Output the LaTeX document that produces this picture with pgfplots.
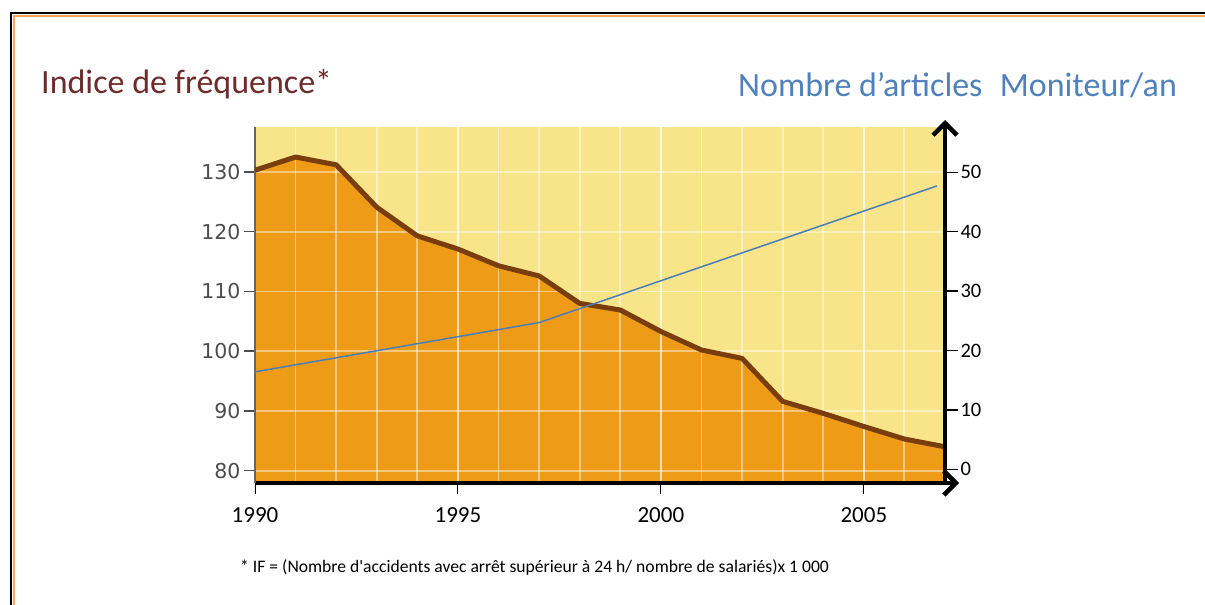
\documentclass[border=0pt]{standalone}
\usepackage{pgfplots}
\pgfplotsset{compat=1.18}
\usepackage{pgfplotstable}
\usetikzlibrary{arrows.meta}
\usepackage{fontspec}
\setmainfont{Carlito}[Ligatures=TeXOff]
\newfontfamily\dejavu{DejaVu Sans}
\definecolor{bgyellow}{HTML}{F8E58A}
\definecolor{areaorange}{HTML}{EE9C17}
\definecolor{linebrown}{HTML}{7A3E0C}
\definecolor{lineblue}{HTML}{4A7EBB}
\definecolor{titlered}{HTML}{6E2B2B}
\definecolor{titleblue}{HTML}{4F81BD}
\definecolor{frameorange}{HTML}{FAA75C}
\definecolor{ticklabgray}{HTML}{4D4D4D}

\pgfplotstableread{
year freq
1990 130.3
1991 132.5
1992 131.2
1993 124.1
1994 119.3
1995 117.1
1996 114.3
1997 112.6
1998 108.0
1999 106.9
2000 103.3
2001 100.2
2002 98.8
2003 91.6
2004 89.6
2005 87.4
2006 85.3
2007 84.0
}\freqtable

\pgfplotstableread{
year articles
1990 16.4
1997 24.7
2006.8 47.7
}\arttable

\begin{document}
\begin{tikzpicture}[x=1pt,y=1pt]
\useasboundingbox (0,0) rectangle (1205,605);
\fill[white] (0,0) rectangle (1205,605);
\draw[black,line width=2.4pt] (11,-5) -- (11,591.7) -- (1215,591.7);
\draw[frameorange,line width=2.2pt] (14,-5) -- (14,589) -- (1215,589);

\pgfplotsset{chartbox/.style={width=690pt,height=356pt,scale only axis,
  xmin=1990,xmax=2007,at={(255pt,122pt)},anchor=south west}}

\begin{axis}[chartbox, ymin=77.94, ymax=137.53, axis lines=none,
  xtick=\empty, ytick=\empty, axis background/.style={fill=bgyellow}]
\addplot[fill=areaorange, draw=none] table[x=year,y=freq]{\freqtable} \closedcycle;
\end{axis}

\begin{axis}[chartbox, ymin=77.94, ymax=137.53,
  axis x line*=bottom, axis y line*=left,
  xtick={1990,1995,2000,2005}, minor xtick={1991,...,2006},
  ytick={80,90,...,130},
  grid=both,
  major grid style={white, opacity=0.45, line width=1.8pt},
  minor grid style={white, opacity=0.45, line width=1.8pt},
  major tick length=11pt, minor tick length=0pt,
  tick align=outside,
  x tick style={black, line width=1pt},
  y tick style={ticklabgray, line width=1.5pt},
  x axis line style={black, line width=4.5pt, shorten >=-14pt,
    -{Straight Barb[length=12pt,width=24pt,line width=4.5pt]}},
  y axis line style={black!60, line width=1.8pt},
  /pgf/number format/1000 sep={},
  /pgf/number format/assume math mode=true,
  xticklabel style={font=\fontsize{23}{26}\selectfont, yshift=-10pt},
  yticklabel style={font=\dejavu\fontsize{20.5}{24}\selectfont, text=ticklabgray},
]
\addplot[linebrown, line width=5pt, line join=round] table[x=year,y=freq]{\freqtable};
\end{axis}

\begin{axis}[chartbox, ymin=-2.31, ymax=57.63,
  axis x line=none, axis y line*=right,
  xtick=\empty, ytick={0,10,...,50},
  tick align=outside, major tick length=13pt,
  y tick style={black, line width=1.5pt},
  y axis line style={black, line width=4.5pt, shorten >=-7pt,
    -{Straight Barb[length=12pt,width=24pt,line width=4.5pt]}},
  /pgf/number format/assume math mode=true,
  yticklabel style={font=\fontsize{20.5}{24}\selectfont, xshift=-1pt},
]
\addplot[lineblue, line width=1.5pt] table[x=year,y=articles]{\arttable};
\end{axis}

\node[anchor=base west, text=titlered, font=\fontsize{34}{40}\selectfont, inner sep=0pt]
  at (41,511.7) {Indice de fréquence*};
\node[anchor=base west, text=titleblue, font=\fontsize{34}{40}\selectfont, inner sep=0pt]
  at (738,508.5) {Nombre d’articles\hspace{17.4pt}Moniteur/an};
\node[anchor=base west, font=\fontsize{17.6}{21}\selectfont, inner sep=0pt]
  at (240,32) {* IF = (Nombre d'accidents avec arrêt supérieur à 24 h/ nombre de salariés)x 1 000};
\end{tikzpicture}
\end{document}
